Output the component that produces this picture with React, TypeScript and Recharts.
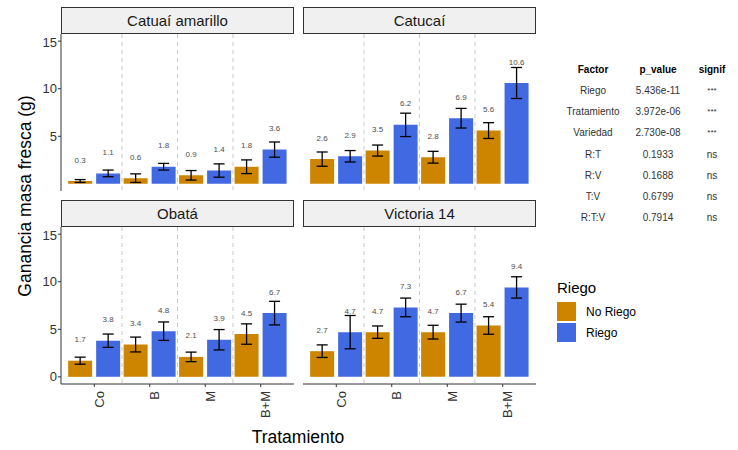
import { BarChart, Bar, XAxis, YAxis, ErrorBar, LabelList, CartesianGrid } from "recharts";

const categories = ["Co", "B", "M", "B+M"];
const varieties = ["Catuaí amarillo", "Catucaí", "Obatá", "Victoria 14"];

// one row per variety, one value per treatment
const noRiegoMean = [
  [0.3, 0.6, 0.9, 1.8],
  [2.6, 3.5, 2.8, 5.6],
  [1.7, 3.4, 2.1, 4.5],
  [2.7, 4.7, 4.7, 5.4],
];
const noRiegoSe = [
  [0.15, 0.45, 0.5, 0.72],
  [0.75, 0.58, 0.62, 0.83],
  [0.37, 0.78, 0.5, 1.07],
  [0.66, 0.65, 0.72, 0.92],
];
const riegoMean = [
  [1.1, 1.8, 1.4, 3.6],
  [2.9, 6.2, 6.9, 10.6],
  [3.8, 4.8, 3.9, 6.7],
  [4.7, 7.3, 6.7, 9.4],
];
const riegoSe = [
  [0.35, 0.35, 0.7, 0.8],
  [0.6, 1.23, 1.03, 1.63],
  [0.7, 0.97, 1.07, 1.24],
  [1.75, 0.98, 0.94, 1.12],
];

const yTicks = [0, 5, 10, 15];

const factors = ["Riego", "Tratamiento", "Variedad", "R:T", "R:V", "T:V", "R:T:V"];
const pValues = ["5.436e-11", "3.972e-06", "2.730e-08", "0.1933", "0.1688", "0.6799", "0.7914"];
const signifs = ["***", "***", "***", "ns", "ns", "ns", "ns"];

const FONT = '"Liberation Sans", Arial, sans-serif';
const NO_RIEGO = "#CD8500";
const RIEGO = "#4169E1";

const PLOT_W = 233;
const PLOT_H = 157;
// ggplot adds 0.6 of a category on each side of a discrete axis
const PAD_X = (PLOT_W * 0.1) / (categories.length + 0.2);

const renderLabel = (props: any) => {
  const { x, y, width, value } = props;
  return (
    <text
      x={x + width / 2}
      y={y - 21}
      textAnchor="middle"
      dominantBaseline="central"
      fontSize={8}
      fill="#4d4d4d"
      fontFamily={FONT}
    >
      {Number(value).toFixed(1)}
    </text>
  );
};

const RotatedTick = (props: any) => {
  const { x, y, payload } = props;
  return (
    <g transform={`translate(${x + 9.5},${y + 2})`}>
      <text transform="rotate(-90)" textAnchor="end" fontSize={13} fill="#333" fontFamily={FONT}>
        {payload.value}
      </text>
    </g>
  );
};

// dashed lines between treatments = start of each band after the first
const separatorCoords = (props: any) => {
  const { xAxis, offset } = props || {};
  if (xAxis && typeof xAxis.scale === "function") {
    const out = categories.slice(1).map((c) => xAxis.scale(c));
    if (out.every((v) => typeof v === "number" && !isNaN(v))) return out;
  }
  const left = offset?.left ?? 0;
  const width = offset?.width ?? PLOT_W;
  const band = (width - 2 * PAD_X) / categories.length;
  return categories.slice(1).map((_, i) => left + PAD_X + band * (i + 1));
};

function Panel({ v, left, top, showY, showX }: { v: number; left: number; top: number; showY: boolean; showX: boolean }) {
  const data = categories.map((c, i) => ({
    cat: c,
    nr: noRiegoMean[v][i],
    nrSe: noRiegoSe[v][i],
    r: riegoMean[v][i],
    rSe: riegoSe[v][i],
  }));
  const yW = showY ? 61 : 0;
  const xH = showX ? 45 : 0;

  return (
    <>
      <div
        style={{
          position: "absolute",
          left,
          top: top - 27,
          width: PLOT_W,
          height: 27,
          boxSizing: "border-box",
          border: "1px solid #333",
          background: "#f0f0f0",
          display: "flex",
          alignItems: "center",
          justifyContent: "center",
          fontSize: 15,
          color: "#1a1a1a",
          fontFamily: FONT,
        }}
      >
        {varieties[v]}
      </div>
      <div style={{ position: "absolute", left: left - yW, top }}>
        <BarChart
          width={PLOT_W + yW}
          height={PLOT_H + xH}
          data={data}
          margin={{ top: 0, right: 0, bottom: 0, left: 0 }}
          barCategoryGap={1.6}
          barGap={4}
        >
          <CartesianGrid
            horizontal={false}
            stroke="#c8c8c8"
            strokeDasharray="4 4"
            verticalCoordinatesGenerator={separatorCoords}
          />
          <XAxis
            dataKey="cat"
            hide={!showX}
            height={xH}
            padding={{ left: PAD_X, right: PAD_X }}
            axisLine={{ stroke: "#333" }}
            tickLine={{ stroke: "#333" }}
            tickSize={3}
            tick={<RotatedTick />}
            interval={0}
          />
          <YAxis
            hide={!showY}
            width={yW}
            domain={[-0.75, 15.75]}
            ticks={yTicks}
            allowDataOverflow
            axisLine={{ stroke: "#333" }}
            tickLine={{ stroke: "#333" }}
            tickSize={3}
            tickMargin={1}
            tick={{ fontSize: 13, fill: "#333", fontFamily: FONT }}
          />
          <Bar dataKey="nr" fill={NO_RIEGO} isAnimationActive={false}>
            <ErrorBar dataKey="nrSe" width={5.5} stroke="#000" strokeWidth={1.3} isAnimationActive={false} />
            <LabelList dataKey="nr" content={renderLabel} />
          </Bar>
          <Bar dataKey="r" fill={RIEGO} isAnimationActive={false}>
            <ErrorBar dataKey="rSe" width={5.5} stroke="#000" strokeWidth={1.3} isAnimationActive={false} />
            <LabelList dataKey="r" content={renderLabel} />
          </Bar>
        </BarChart>
      </div>
    </>
  );
}

export default function App() {
  return (
    <div
      style={{
        position: "absolute",
        left: 0,
        top: 0,
        width: 738,
        height: 450,
        background: "#fff",
        fontFamily: FONT,
      }}
    >
      <Panel v={0} left={61} top={34} showY showX={false} />
      <Panel v={1} left={303} top={34} showY={false} showX={false} />
      <Panel v={2} left={61} top={227} showY showX />
      <Panel v={3} left={303} top={227} showY={false} showX />

      <svg width={738} height={450} style={{ position: "absolute", left: 0, top: 0, pointerEvents: "none" }} fontFamily={FONT}>
        <text transform="translate(30.5,196) rotate(-90)" textAnchor="middle" fontSize={17.5} fill="#000">
          Ganancia masa fresca (g)
        </text>
        <text x={298} y={442.5} textAnchor="middle" fontSize={17.5} fill="#000">
          Tratamiento
        </text>

        <g fontSize={10} dominantBaseline="central" textAnchor="middle">
          <text x={593} y={69.3} fontWeight="bold" fill="#000">Factor</text>
          <text x={658} y={69.3} fontWeight="bold" fill="#000">p_value</text>
          <text x={712} y={69.3} fontWeight="bold" fill="#000">signif</text>
          {factors.map((f, i) => (
            <g key={f} fill="#333">
              <text x={593} y={90.7 + i * 21.1}>{f}</text>
              <text x={658} y={90.7 + i * 21.1}>{pValues[i]}</text>
              <text x={712} y={90.7 + i * 21.1} fontSize={signifs[i] === "***" ? 8 : 10}>{signifs[i]}</text>
            </g>
          ))}
        </g>

        <text x={557} y={287} dominantBaseline="central" fontSize={15} fill="#000">Riego</text>
        <rect x={557} y={302} width={19} height={19} fill={NO_RIEGO} />
        <rect x={557} y={323} width={19} height={19} fill={RIEGO} />
        <text x={586} y={311.5} dominantBaseline="central" fontSize={12} fill="#000">No Riego</text>
        <text x={586} y={332.5} dominantBaseline="central" fontSize={12} fill="#000">Riego</text>
      </svg>
    </div>
  );
}
